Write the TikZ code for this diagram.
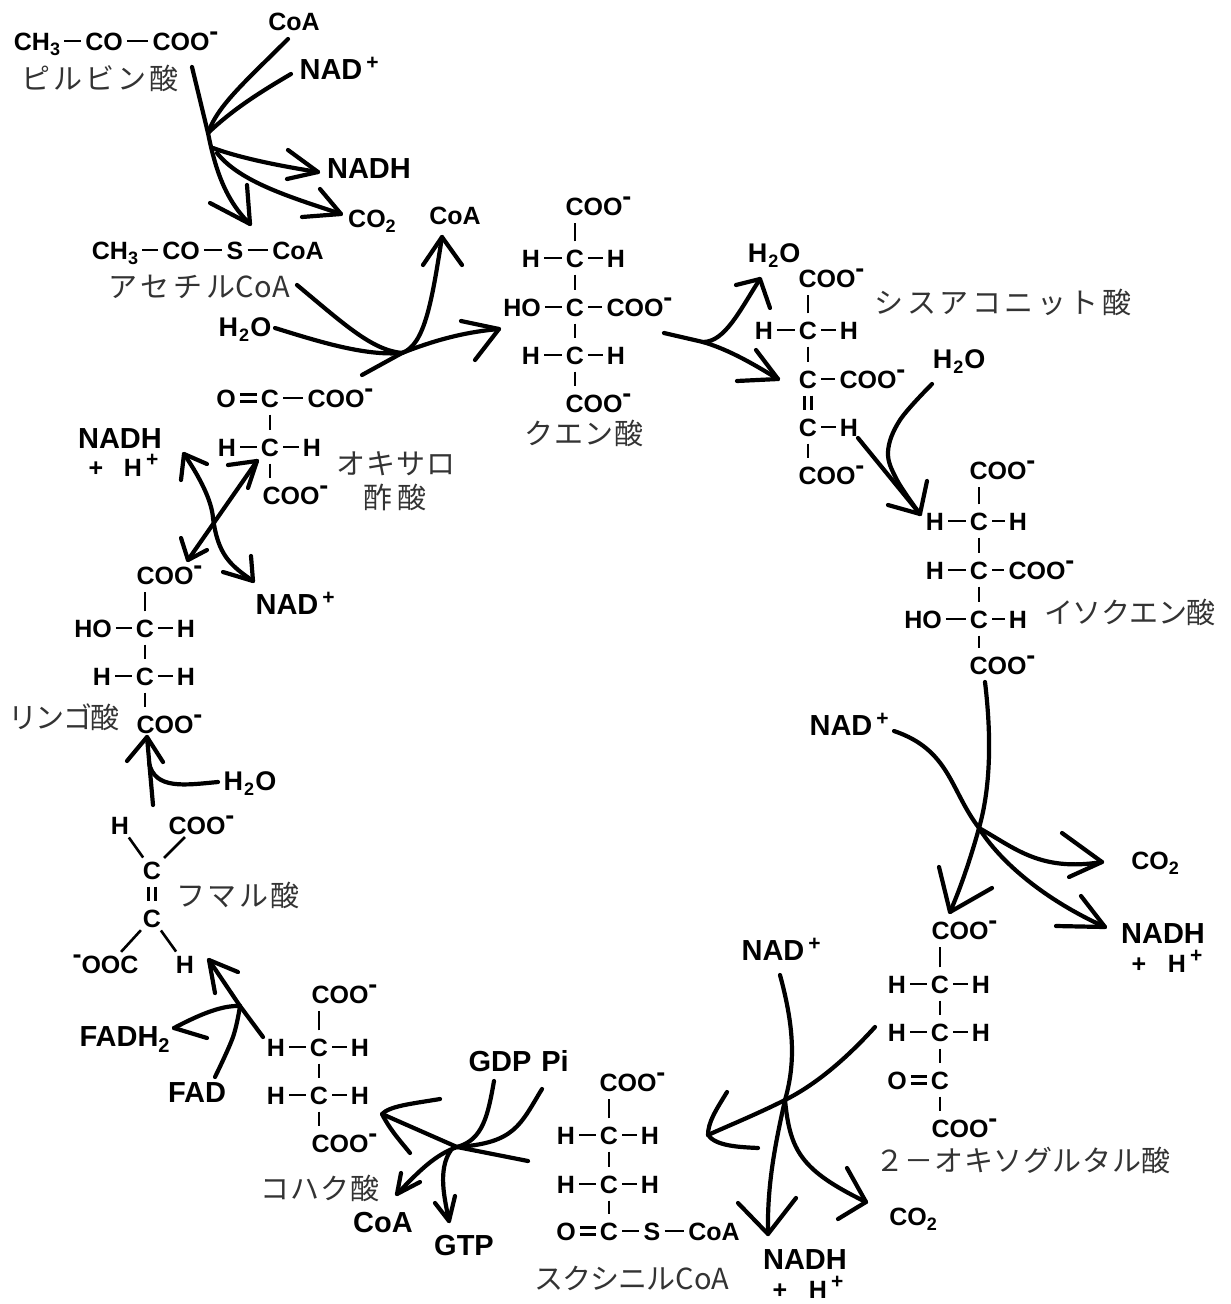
\documentclass[tikz,border=0pt]{standalone}
\usepackage{fontspec}
\setmainfont{Liberation Sans}
\newfontfamily\jpfont{Noto Sans CJK JP}
\newcommand\sbs[1]{\raisebox{-5pt}{\fontsize{18}{18}\selectfont #1}}
\newcommand\smin{\rlap{\raisebox{9.5pt}{\fontsize{27}{27}\selectfont -}}}
\newcommand\lmin{\llap{\raisebox{9.5pt}{\fontsize{27}{27}\selectfont -}}}
\newcommand\spl{\rlap{\kern4pt\raisebox{10pt}{\fontsize{21}{21}\selectfont +}}}
\newcommand\ls[2]{{\addfontfeatures{LetterSpace=#1}#2}}
\tikzset{
  chem/.style={inner sep=0pt,text height=18pt,text depth=0pt,font=\fontsize{25}{25}\bfseries\selectfont},
  wat/.style={inner sep=0pt,text height=19pt,text depth=0pt,font=\fontsize{27}{27}\bfseries\selectfont},
  big/.style={inner sep=0pt,text height=21pt,text depth=0pt,font=\fontsize{29}{29}\bfseries\selectfont},
  jp/.style={inner sep=0pt,text=black!80,font=\fontsize{29}{32}\jpfont\selectfont},
  bh/.style={line width=2.6pt,shorten >=4pt,shorten <=4pt},
  bv/.style={line width=2.6pt,shorten >=7.5pt,shorten <=7.5pt},
  arr/.style={line width=4.2pt,line cap=round,line join=round},
}
\newcommand\wt{H\kern1pt\sbs{2}\kern1pt O}
\newcommand\bvd[2]{\draw[bv] (#1.south) -- (#1.south |- #2.north);}
\newcommand\bvu[2]{\draw[bv] (#1.north) -- (#1.north |- #2.south);}
\newcommand\dblv[2]{\draw[bv] ([xshift=-3.5pt]#1.south) -- ([xshift=-3.5pt]#2.north);\draw[bv] ([xshift=3.5pt]#1.south) -- ([xshift=3.5pt]#2.north);}
\newcommand\dblh[2]{\draw[bh] ([yshift=3.5pt]#1.east) -- ([yshift=3.5pt]#2.west);\draw[bh] ([yshift=-3.5pt]#1.east) -- ([yshift=-3.5pt]#2.west);}
\newcommand\ahead[3]{\draw[arr] (#1) ++(#2) -- (#1) -- ++(#3);}
\newcommand\crv[1]{\draw[arr] plot[smooth,tension=.6] coordinates {#1};}
\begin{document}
\begin{tikzpicture}[x=1pt,y=-1pt]
\useasboundingbox (0,0) rectangle (1231,1304);
% pyruvate
\node[chem] (pa) at (37,41) {CH\sbs{3}};
\node[chem] (pb) at (104,41) {CO};
\node[chem] (pc) at (181,41) {COO\smin};
\draw[bh] (pa)--(pb); \draw[bh] (pb)--(pc);
\node[jp] (lpyr) at (100,78) {\ls{10}{ピルビン酸}};
\node[chem] (coa1) at (294,21) {CoA};
\node[big] (nad1) at (331,69) {NAD\spl};
\node[big] (nadh1) at (369,168) {NADH};
\node[chem] (co21) at (372,218) {CO\sbs{2}};
\node[chem] (coa2) at (455,215) {CoA};
% acetyl
\node[chem] (aa) at (115,250) {CH\sbs{3}};
\node[chem] (ab) at (181,250) {CO};
\node[chem] (ac) at (235,250) {S};
\node[chem] (ad) at (298,250) {CoA};
\draw[bh] (aa)--(ab); \draw[bh] (ab)--(ac); \draw[bh] (ac)--(ad);
\node[jp] (lace) at (199,287) {\ls{14}{アセチル}CoA};
\node[wat] (w1) at (245,327) {\wt};
% citrate
\node[chem] (c1) at (594,206) {COO\smin};
\node[chem] (c2) at (575,258) {C};
\node[chem] (c2l) at (531,258) {H};
\node[chem] (c2r) at (616,258) {H};
\node[chem] (c3) at (575,307) {C};
\node[chem] (c3l) at (522,307) {HO};
\node[chem] (c3r) at (635,307) {COO\smin};
\node[chem] (c4) at (575,355) {C};
\node[chem] (c4l) at (531,355) {H};
\node[chem] (c4r) at (616,355) {H};
\node[chem] (c5) at (594,403) {COO\smin};
\bvu{c2}{c1} \bvd{c2}{c3} \bvd{c3}{c4} \bvd{c4}{c5}
\draw[bh] (c2l)--(c2); \draw[bh] (c2)--(c2r); \draw[bh] (c3l)--(c3); \draw[bh] (c3)--(c3r); \draw[bh] (c4l)--(c4); \draw[bh] (c4)--(c4r);
\node[jp] (lcit) at (584,433) {\ls{3}{クエン酸}};
% cis-aconitate
\node[wat] (w2) at (774,253) {\wt};
\node[chem] (d1) at (827,278) {COO\smin};
\node[chem] (d2) at (808,330) {C};
\node[chem] (d2l) at (764,330) {H};
\node[chem] (d2r) at (849,330) {H};
\node[chem] (d3) at (808,379) {C};
\node[chem] (d3r) at (868,379) {COO\smin};
\node[chem] (d4) at (808,427) {C};
\node[chem] (d4r) at (849,427) {H};
\node[chem] (d5) at (827,475) {COO\smin};
\bvu{d2}{d1} \bvd{d2}{d3} \dblv{d3}{d4} \bvd{d4}{d5}
\draw[bh] (d2l)--(d2); \draw[bh] (d2)--(d2r); \draw[bh] (d3)--(d3r); \draw[bh] (d4)--(d4r);
\node[jp] (lcis) at (1003,302) {\ls{12}{シスアコニット酸}};
\node[wat] (w3) at (959,359) {\wt};
% isocitrate
\node[chem] (e1) at (998,470) {COO\smin};
\node[chem] (e2) at (979,521) {C};
\node[chem] (e2l) at (935,521) {H};
\node[chem] (e2r) at (1018,521) {H};
\node[chem] (e3) at (979,570) {C};
\node[chem] (e3l) at (935,570) {H};
\node[chem] (e3r) at (1037,570) {COO\smin};
\node[chem] (e4) at (979,619) {C};
\node[chem] (e4l) at (923,619) {HO};
\node[chem] (e4r) at (1018,619) {H};
\node[chem] (e5) at (998,665) {COO\smin};
\bvu{e2}{e1} \bvd{e2}{e3} \bvd{e3}{e4} \bvd{e4}{e5}
\draw[bh] (e2l)--(e2); \draw[bh] (e2)--(e2r); \draw[bh] (e3l)--(e3); \draw[bh] (e3)--(e3r); \draw[bh] (e4l)--(e4); \draw[bh] (e4)--(e4r);
\node[jp] (liso) at (1130,612) {\ls{-2}{イソクエン酸}};
\node[big] (nad2) at (841,725) {NAD\spl};
\node[chem] (co22) at (1155,860) {CO\sbs{2}};
\node[big] (nadh2) at (1163,933) {NADH};
\node[chem] (plus2) at (1139,963) {+};
\node[chem] (hp2) at (1177,963) {H\spl};
% 2-oxoglutarate
\node[chem] (f1) at (960,930) {COO\smin};
\node[chem] (f2) at (940,984) {C};
\node[chem] (f2l) at (897,984) {H};
\node[chem] (f2r) at (981,984) {H};
\node[chem] (f3) at (940,1032) {C};
\node[chem] (f3l) at (897,1032) {H};
\node[chem] (f3r) at (981,1032) {H};
\node[chem] (f4) at (940,1080) {C};
\node[chem] (f4l) at (897,1080) {O};
\node[chem] (f5) at (960,1128) {COO\smin};
\bvu{f2}{f1} \bvd{f2}{f3} \bvd{f3}{f4} \bvd{f4}{f5}
\draw[bh] (f2l)--(f2); \draw[bh] (f2)--(f2r); \draw[bh] (f3l)--(f3); \draw[bh] (f3)--(f3r);
\dblh{f4l}{f4}
\node[jp] (loxo) at (1023,1160) {\ls{2}{２－オキソグルタル酸}};
\node[big] (nad3) at (773,950) {NAD\spl};
\node[chem] (co23) at (913,1216) {CO\sbs{2}};
\node[big] (nadh3) at (805,1259) {NADH};
\node[chem] (plus3) at (780,1289) {+};
\node[chem] (hp3) at (818,1289) {H\spl};
% succinyl-CoA
\node[chem] (g1) at (628,1082) {COO\smin};
\node[chem] (g2) at (609,1135) {C};
\node[chem] (g2l) at (566,1135) {H};
\node[chem] (g2r) at (650,1135) {H};
\node[chem] (g3) at (609,1184) {C};
\node[chem] (g3l) at (566,1184) {H};
\node[chem] (g3r) at (650,1184) {H};
\node[chem] (g4) at (609,1231) {C};
\node[chem] (g4l) at (566,1231) {O};
\node[chem] (g4s) at (652,1231) {S};
\node[chem] (g4c) at (714,1231) {CoA};
\bvu{g2}{g1} \bvd{g2}{g3} \bvd{g3}{g4}
\draw[bh] (g2l)--(g2); \draw[bh] (g2)--(g2r); \draw[bh] (g3l)--(g3); \draw[bh] (g3)--(g3r);
\dblh{g4l}{g4} \draw[bh] (g4)--(g4s); \draw[bh] (g4s)--(g4c);
\node[jp] (lsuc) at (632,1278) {\ls{-3}{スクシニル}CoA};
\node[big] (gdp) at (500,1061) {GDP};
\node[big] (pi) at (555,1061) {Pi};
\node[big] (coa3) at (383,1222) {CoA};
\node[big] (gtp) at (464,1245) {GTP};
% succinate
\node[chem] (h1) at (340,994) {COO\smin};
\node[chem] (h2) at (319,1047) {C};
\node[chem] (h2l) at (276,1047) {H};
\node[chem] (h2r) at (360,1047) {H};
\node[chem] (h3) at (319,1095) {C};
\node[chem] (h3l) at (276,1095) {H};
\node[chem] (h3r) at (360,1095) {H};
\node[chem] (h4) at (340,1143) {COO\smin};
\bvu{h2}{h1} \bvd{h2}{h3} \bvd{h3}{h4}
\draw[bh] (h2l)--(h2); \draw[bh] (h2)--(h2r); \draw[bh] (h3l)--(h3); \draw[bh] (h3)--(h3r);
\node[jp] (lsuci) at (320,1188) {\ls{3}{コハク酸}};
\node[big] (fadh) at (119,1036) {FADH\rlap{\raisebox{-6pt}{\fontsize{20}{20}\selectfont 2}}};
\node[big] (fad) at (197,1092) {FAD};
% fumarate
\node[chem] (i1l) at (120,825) {H};
\node[chem] (i1r) at (197,825) {COO\smin};
\node[chem] (i2) at (152,870) {C};
\node[chem] (i3) at (152,918) {C};
\node[chem] (i4l) at (110,964) {\lmin OOC};
\node[chem] (i4r) at (185,964) {H};
\draw[bh] (i1l)--(i2); \draw[bh] (i1r)--(i2); \dblv{i2}{i3} \draw[bh] (i3)--(i4l); \draw[bh] (i3)--(i4r);
\node[jp] (lfum) at (238,895) {\ls{7}{フマル酸}};
% malate
\node[chem] (j1) at (165,575) {COO\smin};
\node[chem] (j2) at (145,628) {C};
\node[chem] (j2l) at (93,628) {HO};
\node[chem] (j2r) at (186,628) {H};
\node[chem] (j3) at (145,676) {C};
\node[chem] (j3l) at (102,676) {H};
\node[chem] (j3r) at (186,676) {H};
\node[chem] (j4) at (165,724) {COO\smin};
\bvu{j2}{j1} \bvd{j2}{j3} \bvd{j3}{j4}
\draw[bh] (j2l)--(j2); \draw[bh] (j2)--(j2r); \draw[bh] (j3l)--(j3); \draw[bh] (j3)--(j3r);
\node[jp] (lmal) at (64,717) {\ls{-5}{リンゴ酸}};
\node[wat] (w4) at (250,781) {\wt};
% oxaloacetate
\node[chem] (k1l) at (226,398) {O};
\node[chem] (k1) at (270,398) {C};
\node[chem] (k1r) at (336,398) {COO\smin};
\node[chem] (k2) at (270,447) {C};
\node[chem] (k2l) at (227,447) {H};
\node[chem] (k2r) at (312,447) {H};
\node[chem] (k3) at (291,495) {COO\smin};
\dblh{k1l}{k1} \draw[bh] (k1)--(k1r); \bvd{k1}{k2} \bvd{k2}{k3}
\draw[bh] (k2l)--(k2); \draw[bh] (k2)--(k2r);
\node[jp] (loxa) at (396,464) {\ls{3}{オキサロ}};
\node[jp] (lsan) at (395,497) {\ls{14}{酢酸}};
\node[big] (nadh4) at (120,438) {NADH};
\node[chem] (plus4) at (96,467) {+};
\node[chem] (hp4) at (133,467) {H\spl};
\node[big] (nad4) at (287,604) {NAD\spl};
% === connectors ===
\coordinate (j1a) at (208,133);
\coordinate (t1) at (250,224);
\coordinate (s1) at (192,67);
\draw[arr] (s1) -- (j1a) .. controls (215,168) and (225,200) .. (t1);
\ahead{t1}{-40,-21}{-3,-39}
\coordinate (s2) at (288,39);
\draw[arr] (s2) .. controls (245,82) and (218,105) .. (j1a);
\coordinate (s3) at (291,74);
\draw[arr] (s3) .. controls (255,95) and (230,112) .. (j1a);
\coordinate (t2) at (318,172);
\coordinate (s4) at (213,148);
\draw[arr] (s4) .. controls (240,158) and (280,166) .. (t2);
\ahead{t2}{-30,-22}{-31,7}
\coordinate (t3) at (341,214);
\coordinate (s5) at (217,153);
\draw[arr] (s5) .. controls (240,182) and (290,197) .. (t3);
\ahead{t3}{-21,-25}{-39,3}
\coordinate (j2) at (402,353);
\coordinate (t4) at (442,237);
\coordinate (t5) at (499,329);
\coordinate (s6) at (297,285);
\coordinate (s7) at (275,328);
\coordinate (s8) at (362,375);
\draw[arr] (s6) .. controls (345,325) and (372,350) .. (j2);
\draw[arr] (s7) .. controls (320,342) and (365,356) .. (j2);
\draw[arr] (j2) .. controls (425,345) and (432,300) .. (t4);
\ahead{t4}{-19,28}{20,28}
\draw[arr] (s8) -- (j2) .. controls (435,340) and (465,332) .. (t5);
\ahead{t5}{-38,-8}{-24,31}
% citrate -> cis-aconitate
\coordinate (j3a) at (703,342);
\coordinate (t6) at (760,279);
\coordinate (t7) at (778,379);
\coordinate (s9) at (664,333);
\draw[arr] (s9) -- (j3a) .. controls (725,342) and (740,310) .. (t6);
\ahead{t6}{-24,6}{10,29}
\draw[arr] (j3a) .. controls (730,350) and (755,365) .. (t7);
\ahead{t7}{-22,-29}{-41,2}
% cis-aconitate -> isocitrate
\coordinate (t8) at (920,514);
\coordinate (s10) at (858,438);
\coordinate (s11) at (932,384);
\draw[arr] (s10) -- (t8);
\crv{(s11) (900,420) (888,452) (897,480) (t8)}
\ahead{t8}{7,-33}{-32,-9}
% isocitrate -> 2-oxoglutarate
\coordinate (j4) at (979,828);
\coordinate (t9) at (950,912);
\coordinate (s12) at (985,682);
\coordinate (s13) at (894,731);
\draw[arr] (s12) .. controls (992,740) and (990,790) .. (j4) .. controls (973,850) and (962,885) .. (t9);
\ahead{t9}{-11,-45}{42,-24}
\draw[arr] (s13) .. controls (950,750) and (950,790) .. (j4);
\coordinate (t10) at (1102,862);
\draw[arr] (j4) .. controls (1015,848) and (1040,872) .. (t10);
\ahead{t10}{-40,-29}{-33,15}
\coordinate (t11) at (1105,927);
\draw[arr] (j4) .. controls (1000,862) and (1045,900) .. (t11);
\ahead{t11}{-24,-31}{-49,-1}
% 2-oxoglutarate -> succinyl-CoA
\coordinate (j5) at (785,1100);
\coordinate (t12) at (708,1135);
\coordinate (s14) at (875,1027);
\coordinate (s15) at (780,975);
\draw[arr] (s14) .. controls (845,1060) and (815,1085) .. (j5) .. controls (755,1115) and (730,1125) .. (t12);
\draw[arr] (727,1092) .. controls (716,1110) and (708,1122) .. (t12) .. controls (716,1146) and (738,1147) .. (758,1148);
\coordinate (t13) at (768,1234);
\draw[arr] (s15) .. controls (795,1030) and (795,1065) .. (j5) .. controls (775,1145) and (767,1185) .. (t13);
\ahead{t13}{-30,-31}{28,-36}
\coordinate (t14) at (866,1202);
\draw[arr] (j5) .. controls (790,1150) and (800,1170) .. (t14);
\ahead{t14}{-19,-34}{-28,17}
% succinyl-CoA -> succinate
\coordinate (j6) at (457,1147);
\coordinate (t15) at (382,1114);
\coordinate (s16) at (528,1161);
\coordinate (s17) at (494,1081);
\coordinate (s18) at (542,1089);
\draw[arr] (s16) -- (j6) -- (t15);
\draw[arr] (440,1099) .. controls (410,1104) and (390,1106) .. (t15) .. controls (390,1130) and (402,1143) .. (410,1153);
\draw[arr] (s17) .. controls (488,1115) and (483,1140) .. (j6);
\draw[arr] (s18) .. controls (520,1125) and (515,1143) .. (j6);
\coordinate (t16) at (397,1194);
\draw[arr] (j6) .. controls (435,1155) and (420,1170) .. (t16);
\ahead{t16}{4,-21}{23,-12}
\coordinate (t17) at (449,1221);
\coordinate (s19) at (451,1150);
\draw[arr] (s19) .. controls (437,1170) and (445,1200) .. (t17);
\ahead{t17}{-14,-18}{6,-25}
% succinate -> fumarate
\coordinate (j7) at (240,1006);
\coordinate (t18) at (209,960);
\coordinate (s20) at (263,1037);
\coordinate (s21) at (215,1077);
\draw[arr] (s20) -- (j7) -- (t18);
\ahead{t18}{6,33}{29,12}
\coordinate (t19) at (174,1028);
\draw[arr] (j7) .. controls (220,1005) and (195,1017) .. (t19);
\draw[arr] (t19) -- ++(33,10);
\crv{(s21) (233,1037) (j7)}
% fumarate -> malate
\coordinate (t20) at (147,737);
\coordinate (s22) at (153,805);
\coordinate (s23) at (218,782);
\draw[arr] (s22) -- (t20);
\ahead{t20}{-20,24}{16,25}
\draw[arr] (s23) .. controls (185,785) and (155,790) .. (149,763);
% malate <-> oxaloacetate
\coordinate (t21) at (184,454);
\coordinate (t22) at (253,581);
\coordinate (t23) at (257,461);
\coordinate (t24) at (188,560);
\draw[arr] (t21) .. controls (205,485) and (212,505) .. (213,518) .. controls (218,555) and (230,565) .. (t22);
\ahead{t21}{-3,26}{23,10}
\ahead{t22}{-2,-25}{-30,-9}
\draw[arr] (t23) -- (t24);
\ahead{t23}{-29,4}{-9,27}
\ahead{t24}{-7,-22}{19,-10}
\end{tikzpicture}
\end{document}
